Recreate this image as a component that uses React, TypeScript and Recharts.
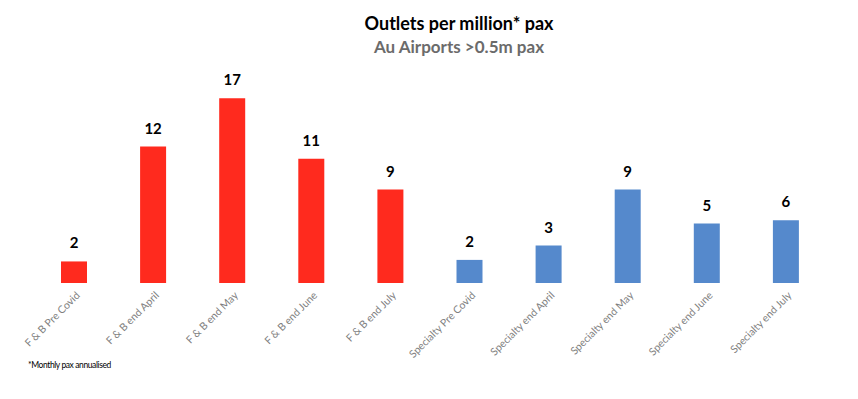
import { BarChart, Bar, XAxis, YAxis, Cell, LabelList } from "recharts";

const categories = [
  "F & B Pre Covid",
  "F & B end April",
  "F & B end May",
  "F & B end June",
  "F & B end July",
  "Specialty Pre Covid",
  "Specialty end April",
  "Specialty end May",
  "Specialty end June",
  "Specialty end July",
];

// outlets per million pax (labels show the rounded figure)
const outlets = [1.96, 12.4, 16.8, 11.3, 8.5, 2.1, 3.4, 8.5, 5.4, 5.7];
const groups = ["fb", "fb", "fb", "fb", "fb", "spec", "spec", "spec", "spec", "spec"];

const groupColors: Record<string, string> = { fb: "#FF2A1E", spec: "#5589CC" };

const data = categories.map((name, i) => ({ name, value: outlets[i], group: groups[i] }));

const FONT = "Lato, 'Open Sans', sans-serif";

const AngledTick = ({ x, y, payload }: any) => (
  <g transform={`translate(${x + 7},${y + 5})`}>
    <text textAnchor="end" transform="rotate(-45)" fontSize={10.5} fill="#7f7f7f" fontFamily={FONT}>
      {payload.value}
    </text>
  </g>
);

const ValueLabel = ({ x, y, width, value }: any) => (
  <text x={x + width / 2} y={y - 13} textAnchor="middle" fontSize={15} fontWeight={700} fill="#000" fontFamily={FONT}>
    {Math.round(value)}
  </text>
);

export default function App() {
  return (
    <div style={{ position: "absolute", left: 0, top: 0, width: 858, height: 399, background: "#fff", fontFamily: FONT }}>
      <div style={{ position: "absolute", left: 0, width: 918, top: 12, textAlign: "center", fontSize: 18, fontWeight: 700, color: "#000" }}>
        Outlets per million* pax
      </div>
      <div style={{ position: "absolute", left: 0, width: 918, top: 36, textAlign: "center", fontSize: 17, fontWeight: 700, color: "#6b6b6b" }}>
        Au Airports &gt;0.5m pax
      </div>
      <BarChart width={858} height={399} data={data} margin={{ top: 63, right: 33, left: 34, bottom: 56 }}>
        <XAxis dataKey="name" axisLine={false} tickLine={false} interval={0} height={60} tick={<AngledTick />} />
        <YAxis hide domain={[0, 20]} />
        <Bar dataKey="value" barSize={26} isAnimationActive={false}>
          {data.map((d, i) => (
            <Cell key={`cell-${i}`} fill={groupColors[d.group]} />
          ))}
          <LabelList dataKey="value" content={<ValueLabel />} />
        </Bar>
      </BarChart>
      <div style={{ position: "absolute", left: 28, top: 360, fontSize: 8.5, letterSpacing: -0.4, color: "#000" }}>
        *Monthly pax annualised
      </div>
    </div>
  );
}
